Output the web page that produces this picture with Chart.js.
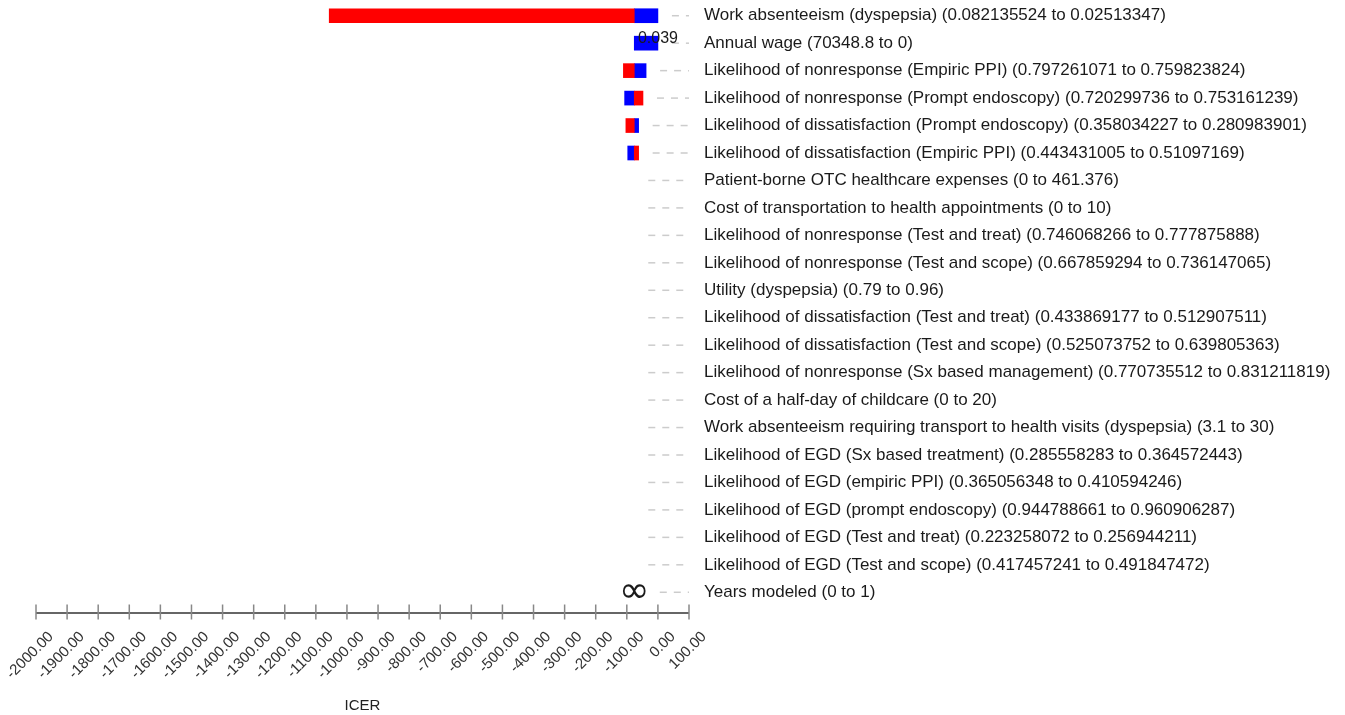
<!DOCTYPE html>
<html>
<head>
<meta charset="utf-8">
<script src="https://cdn.jsdelivr.net/npm/chart.js@4.4.1/dist/chart.umd.min.js"></script>
<style>
  html, body { margin: 0; padding: 0; background: #ffffff; }
  canvas { display: block; }
</style>
</head>
<body>
<canvas id="tornado" width="1345" height="715"></canvas>
<script>
// One-way sensitivity analysis (tornado diagram) of the ICER
const parameters = [
  'Work absenteeism (dyspepsia) (0.082135524 to 0.02513347)',
  'Annual wage (70348.8 to 0)',
  'Likelihood of nonresponse (Empiric PPI) (0.797261071 to 0.759823824)',
  'Likelihood of nonresponse (Prompt endoscopy) (0.720299736 to 0.753161239)',
  'Likelihood of dissatisfaction (Prompt endoscopy) (0.358034227 to 0.280983901)',
  'Likelihood of dissatisfaction (Empiric PPI) (0.443431005 to 0.51097169)',
  'Patient-borne OTC healthcare expenses (0 to 461.376)',
  'Cost of transportation to health appointments (0 to 10)',
  'Likelihood of nonresponse (Test and treat) (0.746068266 to 0.777875888)',
  'Likelihood of nonresponse (Test and scope) (0.667859294 to 0.736147065)',
  'Utility (dyspepsia) (0.79 to 0.96)',
  'Likelihood of dissatisfaction (Test and treat) (0.433869177 to 0.512907511)',
  'Likelihood of dissatisfaction (Test and scope) (0.525073752 to 0.639805363)',
  'Likelihood of nonresponse (Sx based management) (0.770735512 to 0.831211819)',
  'Cost of a half-day of childcare (0 to 20)',
  'Work absenteeism requiring transport to health visits (dyspepsia) (3.1 to 30)',
  'Likelihood of EGD (Sx based treatment) (0.285558283 to 0.364572443)',
  'Likelihood of EGD (empiric PPI) (0.365056348 to 0.410594246)',
  'Likelihood of EGD (prompt endoscopy) (0.944788661 to 0.960906287)',
  'Likelihood of EGD (Test and treat) (0.223258072 to 0.256944211)',
  'Likelihood of EGD (Test and scope) (0.417457241 to 0.491847472)',
  'Years modeled (0 to 1)'
];

// Base-case ICER every bar starts from
const baseIcer = -76;

// ICER at the red end of each bar
const redEnds = [
  -1057, -76, -111, -48, -103, -62,
  -76, -76, -76, -76, -76, -76, -76, -76, -76, -76,
  -76, -76, -76, -76, -76, -76
];

// ICER at the blue end of each bar
const blueEnds = [
  0.039, 0.039, -38, -107, -62, -97,
  -76, -76, -76, -76, -76, -76, -76, -76, -76, -76,
  -76, -76, -76, -76, -76, -76
];

// Rows whose ICER is undefined (shown with an infinity sign)
const infiniteRows = [21];
// Rows whose blue end value is written next to the bar
const annotatedRows = [1];

// ICER axis ticks
const icerTicks = [
  -2000, -1900, -1800, -1700, -1600, -1500, -1400, -1300, -1200, -1100, -1000,
  -900, -800, -700, -600, -500, -400, -300, -200, -100, 0, 100
];

const FONT = '"Liberation Sans", Arial, Helvetica, sans-serif';
const INF_FAMILY = '"DejaVu Sans", sans-serif';
const INF_WIDTH = 23;

// A bar that does not move away from the base case is left out
const toBar = v => (v === baseIcer ? null : [baseIcer, v]);

// Font for the infinity sign, sized so the visible glyph has a fixed width
function infinityFont(ctx) {
  ctx.font = '100px ' + INF_FAMILY;
  const m = ctx.measureText('\u221E');
  const inked = (m.actualBoundingBoxLeft + m.actualBoundingBoxRight) || m.width;
  const size = INF_WIDTH / inked * 100;
  return size.toFixed(1) + 'px ' + INF_FAMILY;
}

// Dashed leader lines from each bar to the parameter label
const leaderLines = {
  id: 'leaderLines',
  beforeDatasetsDraw(chart) {
    const { ctx, chartArea, scales: { x, y } } = chart;
    ctx.save();
    ctx.strokeStyle = '#cccccc';
    ctx.lineWidth = 1.5;
    ctx.setLineDash([7, 7]);
    parameters.forEach((p, i) => {
      const yPix = y.getPixelForValue(i);
      let end = Math.max(x.getPixelForValue(baseIcer), x.getPixelForValue(redEnds[i]), x.getPixelForValue(blueEnds[i]));
      if (infiniteRows.includes(i)) {
        end = x.getPixelForValue(baseIcer) + INF_WIDTH / 2;
      }
      const start = end + 14;
      if (start < chartArea.right) {
        ctx.beginPath();
        ctx.moveTo(start, yPix);
        ctx.lineTo(chartArea.right, yPix);
        ctx.stroke();
      }
    });
    ctx.restore();
  }
};

// Value note and infinity marks
const marks = {
  id: 'marks',
  afterDatasetsDraw(chart) {
    const { ctx, scales: { x, y } } = chart;
    ctx.save();
    ctx.fillStyle = '#1a1a1a';
    ctx.textAlign = 'center';
    ctx.textBaseline = 'middle';
    annotatedRows.forEach(i => {
      ctx.font = '16px ' + FONT;
      ctx.fillText(blueEnds[i].toFixed(3), x.getPixelForValue(blueEnds[i]), y.getPixelForValue(i) - 5);
    });
    infiniteRows.forEach(i => {
      ctx.font = infinityFont(ctx);
      ctx.fillText('\u221E', x.getPixelForValue(baseIcer), y.getPixelForValue(i));
    });
    ctx.restore();
  }
};

// ICER axis line with tick marks crossing it
const icerAxisLine = {
  id: 'icerAxisLine',
  afterDraw(chart) {
    const { ctx, chartArea, scales: { x } } = chart;
    const axisY = chartArea.bottom + 7;
    ctx.save();
    ctx.strokeStyle = '#666666';
    ctx.lineWidth = 2;
    ctx.beginPath();
    ctx.moveTo(x.getPixelForValue(icerTicks[0]), axisY);
    ctx.lineTo(x.getPixelForValue(icerTicks[icerTicks.length - 1]), axisY);
    ctx.stroke();
    ctx.strokeStyle = '#888888';
    ctx.lineWidth = 1.5;
    icerTicks.forEach(v => {
      const px = x.getPixelForValue(v);
      ctx.beginPath();
      ctx.moveTo(px, axisY - 8.5);
      ctx.lineTo(px, axisY + 6.5);
      ctx.stroke();
    });
    ctx.restore();
  }
};

new Chart(document.getElementById('tornado'), {
  type: 'bar',
  data: {
    labels: parameters,
    datasets: [
      {
        label: 'Low',
        data: redEnds.map(toBar),
        backgroundColor: '#ff0000',
        borderWidth: 0,
        grouped: false,
        barThickness: 14
      },
      {
        label: 'High',
        data: blueEnds.map(toBar),
        backgroundColor: '#0000ff',
        borderWidth: 0,
        grouped: false,
        barThickness: 14
      }
    ]
  },
  options: {
    indexAxis: 'y',
    responsive: false,
    animation: false,
    layout: { padding: { left: 36, top: 2, right: 0, bottom: 0 } },
    plugins: {
      legend: { display: false },
      tooltip: { enabled: false }
    },
    scales: {
      x: {
        type: 'linear',
        position: 'bottom',
        min: icerTicks[0],
        max: icerTicks[icerTicks.length - 1],
        afterBuildTicks(scale) {
          scale.ticks = icerTicks.map(v => ({ value: v }));
        },
        afterFit(scale) {
          scale.paddingLeft = 0;
          scale.paddingRight = 0;
          scale.height = 109;
        },
        border: { display: false },
        grid: {
          display: true,
          drawOnChartArea: false,
          drawTicks: true,
          tickLength: 10,
          color: 'rgba(0,0,0,0)'
        },
        ticks: {
          autoSkip: false,
          minRotation: 45,
          maxRotation: 45,
          labelOffset: 15,
          padding: 12,
          color: '#333333',
          font: { family: FONT, size: 15 },
          callback: v => Number(v).toFixed(2)
        },
        title: {
          display: true,
          text: 'ICER',
          color: '#222222',
          font: { family: FONT, size: 15 },
          padding: { top: 0, bottom: 0 }
        }
      },
      y: {
        type: 'category',
        position: 'right',
        offset: true,
        afterFit(scale) {
          scale.width = 656;
          scale.paddingTop = 0;
          scale.paddingBottom = 0;
        },
        border: { display: false },
        grid: { display: false, drawTicks: false },
        ticks: {
          autoSkip: false,
          padding: 15,
          color: '#1a1a1a',
          font: { family: FONT, size: 17 }
        }
      }
    }
  },
  plugins: [leaderLines, marks, icerAxisLine]
});
</script>
</body>
</html>
